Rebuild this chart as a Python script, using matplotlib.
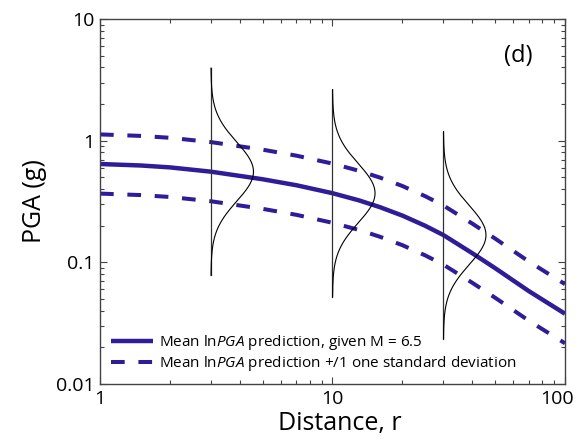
import numpy as np
import matplotlib
matplotlib.use("Agg")
import matplotlib.pyplot as plt
import matplotlib.transforms as mtransforms

plt.rcParams["font.family"] = ["Open Sans", "DejaVu Sans"]
plt.rcParams["mathtext.fontset"] = "custom"
plt.rcParams["mathtext.rm"] = "Open Sans"
plt.rcParams["mathtext.it"] = "Open Sans:italic"

# Median PGA (g) against distance (km) for M = 6.5
distance = [1, 1.5, 2, 3, 5, 7, 10, 13, 16, 20, 25, 30, 40, 50, 70, 100]
median_pga = [0.643, 0.625, 0.603, 0.556, 0.482, 0.430, 0.370, 0.323,
              0.284, 0.242, 0.200, 0.1675, 0.1186, 0.0897, 0.0579, 0.0378]
sigma_ln = 0.56          # standard deviation of ln PGA
pdf_distances = [3, 10, 30]
pdf_extent = 3.5         # density drawn out to +/- this many sigma
pdf_width = 0.183        # peak width of the density, decades of r

BLUE = "#301C98"

r = np.array(distance, dtype=float)
med = np.array(median_pga)
upper = med * np.exp(sigma_ln)
lower = med * np.exp(-sigma_ln)

fig = plt.figure(figsize=(5.79, 4.45), dpi=100)
ax = fig.add_axes([0.1727, 0.1371, 0.8031, 0.8202])

ax.plot(r, med, color=BLUE, lw=3.2, solid_capstyle="butt",
        label=r"Mean ln$\it{PGA}$ prediction, given M = 6.5")
ax.plot(r, upper, color=BLUE, lw=2.9, ls=(0, (3.4, 3.4)), dash_capstyle="butt",
        label=r"Mean ln$\it{PGA}$ prediction +/1 one standard deviation")
ax.plot(r, lower, color=BLUE, lw=2.9, ls=(0, (3.4, 3.4)), dash_capstyle="butt")

# lognormal densities hung off vertical stems
for d in pdf_distances:
    m = med[distance.index(d)]
    z = np.linspace(-pdf_extent, pdf_extent, 300)
    y = m * np.exp(z * sigma_ln)
    dens = np.exp(-0.5 * z ** 2)
    ax.plot([d, d], [y[0], y[-1]], color="#333333", lw=0.9)
    ax.plot(d * 10 ** (pdf_width * dens), y, color="black", lw=0.8)

ax.set_xscale("log")
ax.set_yscale("log")
ax.set_xlim(1, 100)
ax.set_ylim(0.01, 10)
ax.set_xticks([1, 10, 100])
ax.set_xticklabels(["1", "10", "100"])
ax.set_yticks([0.01, 0.1, 1, 10])
ax.set_yticklabels(["0.01", "0.1", "1", "10"])
ax.tick_params(which="both", direction="in", top=True, right=True,
               color="#444444", width=0.8)
ax.tick_params(which="major", length=5, labelsize=14, pad=4)
ax.tick_params(which="minor", length=3)
for s in ax.spines.values():
    s.set_color("#444444")
    s.set_linewidth(1.0)

# keep the last x label inside the figure
last = ax.get_xticklabels()[-1]
last.set_transform(last.get_transform() + mtransforms.ScaledTranslation(
    -0.08, 0, fig.dpi_scale_trans))

ax.set_xlabel("Distance, r", fontsize=18, labelpad=6)
ax.xaxis.set_label_coords(0.516, -0.075, transform=ax.transAxes)
ax.xaxis.label.set_va("top")
ax.set_ylabel("PGA (g)", fontsize=18, labelpad=6)
ax.text(0.899, 0.899, "(d)", transform=ax.transAxes, fontsize=17,
        ha="center", va="center")

ax.legend(loc="lower left", frameon=False, fontsize=11, handlelength=2.8,
          handletextpad=0.35, labelspacing=0.12, borderaxespad=0.3,
          borderpad=0.4)

fig.savefig("out.png", dpi=100)
